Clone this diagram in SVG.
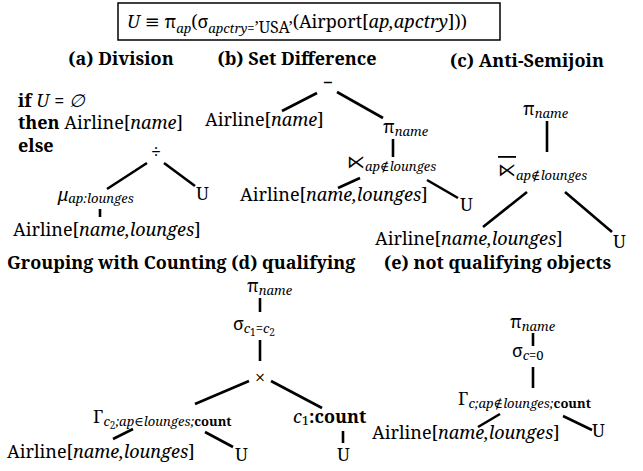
<svg xmlns="http://www.w3.org/2000/svg" width="643" height="471" viewBox="0 0 643 471">
<style>
text{font-family:"Noto Serif","DejaVu Serif",serif;font-size:18px;fill:#000}
.b{font-weight:bold}
.i{font-style:italic}
.s{font-size:13px}
.ss{font-size:10px}
.m{text-anchor:middle}
.ov{text-decoration:overline}
#connectors line{stroke:#000;stroke-width:2.6}
</style>
<rect width="643" height="471" fill="#fff"/>
<g id="title">
<rect x="118" y="3" width="382" height="37" fill="none" stroke="#000" stroke-width="1.5"/>
<text x="127" y="28" font-size="19"><tspan class="i">U</tspan> ≡ π<tspan class="s i" dy="5">ap</tspan><tspan dy="-5">(σ</tspan><tspan class="s i" dy="5">apctry</tspan><tspan class="s">=</tspan><tspan font-size="16">’USA’</tspan><tspan dy="-5">(Airport[</tspan><tspan class="i">ap,apctry</tspan>]))</text>
</g>
<g id="headings">
<text class="b m" x="121" y="65">(a) Division</text>
<text class="b m" x="297" y="65">(b) Set Difference</text>
<text class="b m" x="527" y="67">(c) Anti-Semijoin</text>
<text class="b" x="7" y="269">Grouping with Counting (d) qualifying</text>
<text class="b" x="384" y="269">(e) not qualifying objects</text>
</g>
<g id="connectors">
<line x1="147" y1="163" x2="107" y2="189"/>
<line x1="164" y1="163" x2="195" y2="186"/>
<line x1="100" y1="209" x2="100" y2="217"/>
<line x1="317" y1="93" x2="282" y2="111"/>
<line x1="337" y1="92" x2="383" y2="118"/>
<line x1="393" y1="139" x2="393" y2="157"/>
<line x1="360" y1="178" x2="338" y2="188"/>
<line x1="427" y1="180" x2="458" y2="198"/>
<line x1="547" y1="121" x2="547" y2="152"/>
<line x1="527" y1="192" x2="483" y2="227"/>
<line x1="565" y1="192" x2="612" y2="232"/>
<line x1="260" y1="298" x2="260" y2="312"/>
<line x1="260" y1="340" x2="260" y2="361"/>
<line x1="249" y1="381" x2="195" y2="404"/>
<line x1="271" y1="381" x2="322" y2="408"/>
<line x1="133" y1="429" x2="113" y2="439"/>
<line x1="205" y1="432" x2="233" y2="447"/>
<line x1="343" y1="431" x2="343" y2="443"/>
<line x1="533" y1="333" x2="533" y2="346"/>
<line x1="533" y1="367" x2="533" y2="388"/>
<line x1="500" y1="414" x2="478" y2="427"/>
<line x1="563" y1="416" x2="592" y2="430"/>
</g>
<g id="a-cond">
<text x="18" y="107"><tspan class="b">if </tspan><tspan class="i">U</tspan> = <tspan class="i">∅</tspan></text>
<text x="18" y="129"><tspan class="b">then </tspan>Airline[<tspan class="i">name</tspan>]</text>
<text x="18" y="152" class="b">else</text>
</g>
<g id="a-div"><text class="m" x="156" y="158" font-size="20">÷</text></g>
<g id="a-mu"><text x="58" y="201"><tspan class="i">μ</tspan><tspan class="s i" dy="2">ap:lounges</tspan></text></g>
<g id="a-airline"><text x="13" y="236">Airline[<tspan class="i">name,lounges</tspan>]</text></g>
<g id="a-u"><text x="196" y="200">U</text></g>
<g id="b-minus"><text class="m" x="328" y="89">−</text></g>
<g id="b-airline1"><text x="205" y="126">Airline[<tspan class="i">name</tspan>]</text></g>
<g id="b-pi"><text x="383" y="133">π<tspan class="s i" dy="3">name</tspan></text></g>
<g id="b-semi"><text x="347" y="168">⋉<tspan class="s i" dy="3">ap∉lounges</tspan></text></g>
<g id="b-airline2"><text x="240" y="201">Airline[<tspan class="i">name,lounges</tspan>]</text></g>
<g id="b-u"><text x="460" y="211">U</text></g>
<g id="c-pi"><text x="523" y="115">π<tspan class="s i" dy="3">name</tspan></text></g>
<g id="c-anti"><text x="498" y="176"><tspan class="ov">⋉</tspan><tspan class="s i" dy="4">ap∉lounges</tspan></text></g>
<g id="c-airline"><text x="375" y="245">Airline[<tspan class="i">name,lounges</tspan>]</text></g>
<g id="c-u"><text x="613" y="248">U</text></g>
<g id="d-pi"><text x="247" y="292">π<tspan class="s i" dy="3">name</tspan></text></g>
<g id="d-sigma"><text x="233" y="330">σ<tspan class="s i" dy="3">c</tspan><tspan class="ss" dy="3">1</tspan><tspan class="s" dy="-3">=</tspan><tspan class="s i">c</tspan><tspan class="ss" dy="3">2</tspan></text></g>
<g id="d-times"><text class="m" x="260" y="384">×</text></g>
<g id="d-gamma"><text x="93" y="423">Γ<tspan class="s i" dy="3">c</tspan><tspan class="ss" dy="3">2</tspan><tspan class="s i" dy="-3">;ap∈lounges;</tspan><tspan class="s b">count</tspan></text></g>
<g id="d-count"><text x="293" y="423"><tspan class="i">c</tspan><tspan class="s" dy="2">1</tspan><tspan class="b" dy="-2">:count</tspan></text></g>
<g id="d-airline"><text x="7" y="458">Airline[<tspan class="i">name,lounges</tspan>]</text></g>
<g id="d-u1"><text x="235" y="461">U</text></g>
<g id="d-u2"><text x="337" y="461">U</text></g>
<g id="e-pi"><text x="510" y="328">π<tspan class="s i" dy="3">name</tspan></text></g>
<g id="e-sigma"><text x="512" y="357">σ<tspan class="s i" dy="3">c</tspan><tspan class="s">=0</tspan></text></g>
<g id="e-gamma"><text x="458" y="405">Γ<tspan class="s i" dy="3">c;ap∉lounges;</tspan><tspan class="s b">count</tspan></text></g>
<g id="e-airline"><text x="372" y="439">Airline[<tspan class="i">name,lounges</tspan>]</text></g>
<g id="e-u"><text x="592" y="437">U</text></g>
</svg>
